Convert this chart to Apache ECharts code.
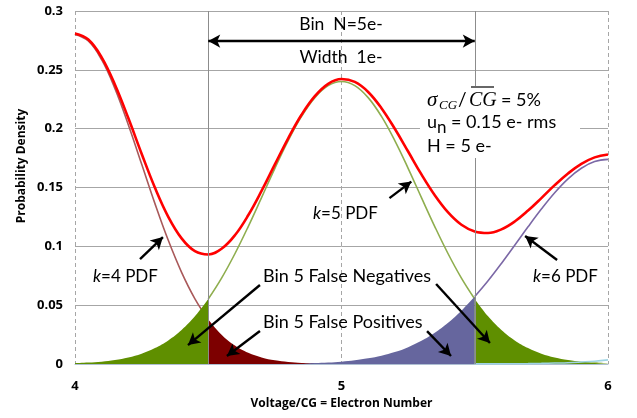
<!DOCTYPE html>
<html>
<head>
<meta charset="utf-8">
<script src="https://cdn.jsdelivr.net/npm/echarts@6/dist/echarts.min.js"></script>
<style>
  html, body { margin: 0; padding: 0; background: #ffffff; }
  #chart { width: 637px; height: 418px; }
</style>
</head>
<body>
<div id="chart"></div>
<script>
// Measured signal (Voltage/CG) in electrons
const electronNumber = [4.00, 4.05, 4.10, 4.15, 4.20, 4.25, 4.30, 4.35, 4.40, 4.45,
  4.50, 4.55, 4.60, 4.65, 4.70, 4.75, 4.80, 4.85, 4.90, 4.95,
  5.00, 5.05, 5.10, 5.15, 5.20, 5.25, 5.30, 5.35, 5.40, 5.45,
  5.50, 5.55, 5.60, 5.65, 5.70, 5.75, 5.80, 5.85, 5.90, 5.95, 6.00];

// Probability density contributed by k = 4, 5, 6, 7 electrons
const pdfK4 = [0.2801, 0.2745, 0.2586, 0.2340, 0.2034, 0.1699, 0.1363, 0.1051, 0.0779, 0.0554,
  0.0379, 0.0249, 0.0157, 0.0095, 0.0056, 0.0031, 0.0017, 0.0009, 0.0004, 0.0002,
  0.0001, 0, 0, 0, 0, 0, 0, 0, 0, 0,
  0, 0, 0, 0, 0, 0, 0, 0, 0, 0, 0];
const pdfK5 = [0.0007, 0.0012, 0.0020, 0.0034, 0.0056, 0.0088, 0.0135, 0.0200, 0.0289, 0.0405,
  0.0552, 0.0730, 0.0937, 0.1168, 0.1414, 0.1663, 0.1898, 0.2104, 0.2264, 0.2366,
  0.2401, 0.2366, 0.2264, 0.2104, 0.1898, 0.1663, 0.1414, 0.1168, 0.0937, 0.0730,
  0.0552, 0.0405, 0.0289, 0.0200, 0.0135, 0.0088, 0.0056, 0.0034, 0.0020, 0.0012, 0.0007];
const pdfK6 = [0, 0, 0, 0, 0, 0, 0, 0, 0, 0,
  0, 0, 0, 0.0001, 0.0001, 0.0002, 0.0003, 0.0005, 0.0008, 0.0013,
  0.0020, 0.0031, 0.0048, 0.0070, 0.0101, 0.0143, 0.0197, 0.0266, 0.0351, 0.0453,
  0.0573, 0.0707, 0.0854, 0.1009, 0.1166, 0.1317, 0.1456, 0.1574, 0.1664, 0.1720, 0.1739];
const pdfK7 = [0, 0, 0, 0, 0, 0, 0, 0, 0, 0,
  0, 0, 0, 0, 0, 0, 0, 0, 0, 0,
  0, 0, 0, 0, 0, 0, 0, 0, 0, 0,
  0.0001, 0.0001, 0.0001, 0.0002, 0.0003, 0.0005, 0.0008, 0.0011, 0.0017, 0.0024, 0.0035];
// Sum over all electron counts
const pdfTotal = [0.2808, 0.2757, 0.2606, 0.2374, 0.2090, 0.1787, 0.1498, 0.1251, 0.1068, 0.0959,
  0.0931, 0.0979, 0.1094, 0.1264, 0.1471, 0.1696, 0.1918, 0.2118, 0.2276, 0.2381,
  0.2422, 0.2397, 0.2312, 0.2174, 0.1999, 0.1806, 0.1611, 0.1434, 0.1288, 0.1183,
  0.1126, 0.1113, 0.1144, 0.1211, 0.1304, 0.1410, 0.1520, 0.1619, 0.1701, 0.1756, 0.1781];

// Bin N = 5 e-, width 1 e-
const binEdges = [4.5, 5.5];
const xTickLabels = ['4', '5', '6'];
const yTickLabels = ['0', '0.05', '0.1', '0.15', '0.2', '0.25', '0.3'];

function pairs(ys, lo, hi) {
  const out = [];
  electronNumber.forEach((x, i) => {
    if (x >= lo - 1e-9 && x <= hi + 1e-9) out.push([x, ys[i]]);
  });
  return out;
}

const TXT = 'Lato, "Open Sans", sans-serif';
const BOLD = '"Open Sans", Lato, sans-serif';
const SERIF = '"Liberation Serif", "DejaVu Serif", serif';

function arrow(from, to, both) {
  return [
    { coord: from, symbol: both ? 'arrow' : 'none' },
    { coord: to, symbol: 'arrow' }
  ];
}

function txt(x, y, text, size, extra) {
  return {
    type: 'text', x: x, y: y, z: 10,
    style: Object.assign({ text: text, fontFamily: TXT, fontSize: size, fill: '#000', align: 'left', verticalAlign: 'middle' }, extra || {})
  };
}

function kLabel(x, y, n) {
  return {
    type: 'text', x: x, y: y, z: 10,
    style: {
      text: '{i|k}{n|=' + n + ' PDF}', verticalAlign: 'middle',
      rich: {
        i: { fontFamily: TXT, fontStyle: 'italic', fontSize: 17, fill: '#000' },
        n: { fontFamily: TXT, fontSize: 17, fill: '#000' }
      }
    }
  };
}

const chart = echarts.init(document.getElementById('chart'), null, { renderer: 'canvas' });

const option = {
  animation: false,
  backgroundColor: '#ffffff',
  grid: { left: 75, right: 29, top: 11, bottom: 54, containLabel: false },
  xAxis: {
    type: 'value', min: 4, max: 6, interval: 1,
    axisLine: { show: true, lineStyle: { color: '#aebfd2', width: 1 } },
    axisTick: { show: false },
    axisLabel: {
      margin: 16, color: '#000', fontFamily: BOLD, fontWeight: 'bold', fontSize: 13,
      formatter: v => xTickLabels[Math.round(v - 4)]
    },
    splitLine: { show: true, lineStyle: { color: '#a6a6a6', type: [4, 3], width: 1 } },
    name: 'Voltage/CG = Electron Number', nameLocation: 'middle', nameGap: 33,
    nameTextStyle: { color: '#000', fontFamily: BOLD, fontWeight: 'bold', fontSize: 12 }
  },
  yAxis: {
    type: 'value', min: 0, max: 0.3, interval: 0.05,
    axisLine: { show: false }, axisTick: { show: false },
    axisLabel: {
      margin: 12, color: '#000', fontFamily: BOLD, fontWeight: 'bold', fontSize: 13,
      formatter: v => yTickLabels[Math.round(v / 0.05)]
    },
    splitLine: { show: true, lineStyle: { color: '#a6a6a6', width: 1 } }
  },
  series: [
    {
      name: 'k=4 PDF', type: 'line', z: 2, smooth: 0.4, symbol: 'none',
      data: pairs(pdfK4, 4.0, 4.5),
      lineStyle: { color: '#a9595a', width: 1.6 },
      markLine: {
        silent: true, symbol: 'none', label: { show: false },
        lineStyle: { color: '#8c8c8c', type: 'solid', width: 1 },
        data: binEdges.map(x => ({ xAxis: x }))
      }
    },
    {
      name: 'k=5 PDF', type: 'line', z: 2, smooth: 0.4, symbol: 'none',
      data: pairs(pdfK5, 4.5, 5.5),
      lineStyle: { color: '#8fae4f', width: 1.6 }
    },
    {
      name: 'k=6 PDF', type: 'line', z: 2, smooth: 0.4, symbol: 'none',
      data: pairs(pdfK6, 5.5, 6.0),
      lineStyle: { color: '#7b68a6', width: 1.6 }
    },
    {
      name: 'k=5 low tail', type: 'line', z: 3, smooth: 0.4, symbol: 'none',
      data: pairs(pdfK5, 4.0, 4.5),
      lineStyle: { width: 0 }, areaStyle: { color: '#5f8f00', opacity: 1 }
    },
    {
      name: 'k=6 in bin', type: 'line', z: 3, smooth: 0.4, symbol: 'none',
      data: pairs(pdfK6, 4.5, 5.5),
      lineStyle: { width: 0 }, areaStyle: { color: '#66669e', opacity: 1 }
    },
    {
      name: 'k=4 in bin', type: 'line', z: 3, smooth: 0.4, symbol: 'none',
      data: pairs(pdfK4, 4.5, 4.9),
      lineStyle: { width: 0 }, areaStyle: { color: '#7d0000', opacity: 1 }
    },
    {
      name: 'k=5 high tail', type: 'line', z: 3, smooth: 0.4, symbol: 'none',
      data: pairs(pdfK5, 5.5, 6.0),
      lineStyle: { width: 0 }, areaStyle: { color: '#5f8f00', opacity: 1 }
    },
    {
      name: 'k=7 PDF', type: 'line', z: 3, smooth: 0.4, symbol: 'none',
      data: pairs(pdfK7, 5.5, 6.0),
      lineStyle: { color: '#9fd4e4', width: 1.6 }
    },
    {
      name: 'Total', type: 'line', z: 4, smooth: 0.4, symbol: 'none',
      data: pairs(pdfTotal, 4.0, 6.0),
      lineStyle: { color: '#ff0000', width: 2.6 },
      markLine: {
        silent: true, symbolSize: [10, 12], label: { show: false },
        lineStyle: { color: '#000', type: 'solid', width: 2.4 },
        data: [
          arrow([4.5, 0.2744], [5.5, 0.2744], true),
          arrow([4.244, 0.0892], [4.330, 0.1079]),
          arrow([5.180, 0.1410], [5.262, 0.1550]),
          arrow([5.809, 0.0884], [5.689, 0.1088]),
          arrow([4.694, 0.0671], [4.424, 0.0161]),
          arrow([5.355, 0.0680], [5.557, 0.0178]),
          arrow([4.694, 0.0280], [4.570, 0.0068]),
          arrow([5.321, 0.0280], [5.411, 0.0068])
        ]
      }
    }
  ],
  graphic: [
    { type: 'text', x: 22, y: 166, rotation: Math.PI / 2, z: 10,
      style: { text: 'Probability Density', fontFamily: BOLD, fontWeight: 'bold', fontSize: 12, fill: '#000', align: 'center', verticalAlign: 'middle' } },
    txt(341, 24, 'Bin  N=5e-', 17.5, { align: 'center' }),
    txt(341, 57, 'Width  1e-', 17.5, { align: 'center' }),
    { type: 'rect', z: 9, shape: { x: 420, y: 86, width: 160, height: 72 }, style: { fill: '#ffffff' } },
    // sigma_CG / mean CG = 5%
    txt(427, 100, 'σ', 21, { fontFamily: SERIF, fontStyle: 'italic' }),
    txt(439, 106, 'CG', 13, { fontFamily: SERIF, fontStyle: 'italic' }),
    txt(458, 100, '/', 19),
    txt(469, 101, 'CG', 20, { fontFamily: SERIF, fontStyle: 'italic' }),
    { type: 'line', z: 10, shape: { x1: 471, y1: 87, x2: 494, y2: 87 }, style: { stroke: '#000', lineWidth: 1.2 } },
    txt(501, 100, '= 5%', 18),
    // read noise
    txt(427, 122, 'u', 18),
    txt(437, 128, 'n', 17),
    txt(451, 122, '= 0.15 e- rms', 18),
    txt(427, 146, 'H = 5 e-', 18),
    kLabel(93, 277, 4),
    kLabel(313, 214, 5),
    kLabel(533, 277, 6),
    txt(263, 276, 'Bin 5 False Negatives', 18),
    txt(263, 322, 'Bin 5 False Positives', 18)
  ]
};

chart.setOption(option);
</script>
</body>
</html>
